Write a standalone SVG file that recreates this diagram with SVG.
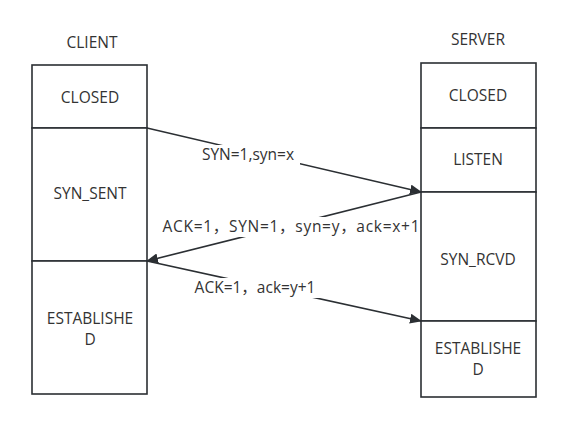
<svg xmlns="http://www.w3.org/2000/svg" width="585" height="437" viewBox="0 0 585 437">
<style>
.box{fill:#fff;stroke:#2b2f33;stroke-width:1.6}
.t{font-family:"Open Sans","Noto Sans CJK SC",sans-serif;font-size:15.5px;fill:#333;text-anchor:middle}
.c{stroke:#2b2f33;stroke-width:1.6;fill:none}
.bg{fill:#fff}
</style>
<defs>
<marker id="ah" viewBox="0 0 12 10" refX="11" refY="5" markerWidth="12" markerHeight="10" markerUnits="userSpaceOnUse" orient="auto">
<path d="M0,0 L12,5 L0,10 Z" fill="#2b2f33"/>
</marker>
</defs>
<rect width="585" height="437" fill="#fff"/>
<text class="t" x="92" y="48">CLIENT</text>
<text class="t" x="478" y="45">SERVER</text>
<g id="client-closed"><rect class="box" x="32" y="65" width="115" height="63"/><text class="t" x="90" y="103">CLOSED</text></g>
<g id="client-syn-sent"><rect class="box" x="32" y="128" width="115" height="133"/><text class="t" x="90" y="199">SYN_SENT</text></g>
<g id="client-established"><rect class="box" x="32" y="261" width="115" height="133"/><text class="t" x="90" y="324">ESTABLISHE</text><text class="t" x="90" y="345">D</text></g>
<g id="server-closed"><rect class="box" x="421" y="63" width="115" height="65"/><text class="t" x="478" y="101">CLOSED</text></g>
<g id="server-listen"><rect class="box" x="421" y="128" width="115" height="64"/><text class="t" x="478" y="165">LISTEN</text></g>
<g id="server-syn-rcvd"><rect class="box" x="421" y="192" width="115" height="129"/><text class="t" x="478" y="265">SYN_RCVD</text></g>
<g id="server-established"><rect class="box" x="421" y="321" width="115" height="76"/><text class="t" x="478" y="354">ESTABLISHE</text><text class="t" x="478" y="375">D</text></g>
<g id="connectors">
<path class="c" d="M147,128 L421,192" marker-end="url(#ah)"/>
<path class="c" d="M421,192 L147,261" marker-end="url(#ah)"/>
<path class="c" d="M147,261 L421,321" marker-end="url(#ah)"/>
<rect class="bg" x="196" y="145" width="104" height="20"/>
<text class="t" x="248" y="160">SYN=1,syn=x</text>
<rect class="bg" x="160" y="217" width="260" height="20"/>
<text class="t" x="291" y="232" textLength="257" lengthAdjust="spacing">ACK=1，SYN=1，syn=y，ack=x+1</text>
<rect class="bg" x="187" y="278" width="136" height="20"/>
<text class="t" x="255" y="293">ACK=1，ack=y+1</text>
</g>
</svg>
